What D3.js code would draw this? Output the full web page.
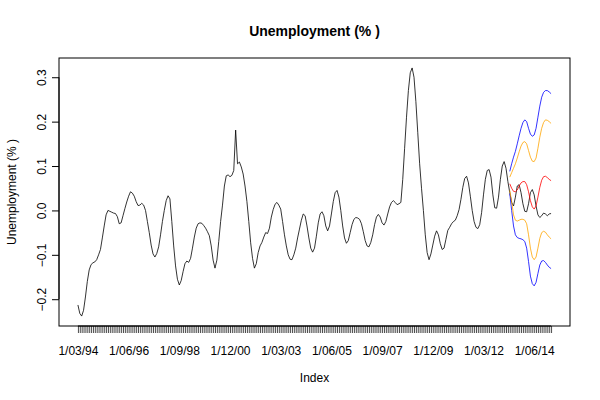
<!DOCTYPE html>
<meta charset="utf-8">

<!-- Load d3.js -->
<script src="https://d3js.org/d3.v7.min.js"></script>

<style>
  body { margin: 0; background: #fff; }
  text { font-family: "Liberation Sans", Arial, Helvetica, sans-serif; }
</style>

<!-- Create a div where the graph will take place -->
<div id="my_dataviz"></div>

<script>

// monthly unemployment change, starting 1/03/94
var unemp = [
  -0.213, -0.232, -0.238, -0.225, -0.195, -0.160, -0.134, -0.122, -0.118, -0.116,
  -0.111, -0.100, -0.088, -0.062, -0.035, -0.010, 0.000, -0.002, -0.004, -0.006,
  -0.007, -0.014, -0.030, -0.028, -0.012, 0.004, 0.019, 0.032, 0.042, 0.039,
  0.032, 0.020, 0.011, 0.012, 0.016, 0.012, 0.000, -0.025, -0.050, -0.078,
  -0.098, -0.105, -0.097, -0.082, -0.055, -0.025, 0.000, 0.022, 0.033, 0.026,
  -0.025, -0.080, -0.125, -0.155, -0.168, -0.158, -0.138, -0.120, -0.114, -0.117,
  -0.108, -0.085, -0.060, -0.040, -0.030, -0.028, -0.029, -0.034, -0.040, -0.048,
  -0.057, -0.080, -0.112, -0.130, -0.112, -0.070, -0.025, 0.012, 0.055, 0.078,
  0.080, 0.076, 0.079, 0.090, 0.181, 0.105, 0.109, 0.098, 0.082, 0.055,
  0.020, -0.025, -0.073, -0.108, -0.130, -0.120, -0.095, -0.080, -0.072, -0.060,
  -0.050, -0.052, -0.040, -0.015, 0.002, 0.014, 0.018, 0.012, 0.003, -0.025,
  -0.055, -0.080, -0.100, -0.110, -0.111, -0.100, -0.085, -0.062, -0.042, -0.022,
  -0.008, -0.012, -0.035, -0.062, -0.085, -0.094, -0.085, -0.058, -0.028, -0.008,
  -0.003, -0.012, -0.035, -0.046, -0.035, -0.008, 0.020, 0.040, 0.045, 0.030,
  0.000, -0.035, -0.062, -0.074, -0.068, -0.050, -0.032, -0.020, -0.016, -0.017,
  -0.020, -0.030, -0.048, -0.068, -0.080, -0.082, -0.072, -0.055, -0.032, -0.015,
  -0.009, -0.015, -0.028, -0.033, -0.025, -0.008, 0.008, 0.018, 0.022, 0.018,
  0.013, 0.015, 0.018, 0.070, 0.140, 0.210, 0.270, 0.310, 0.321, 0.300,
  0.245, 0.175, 0.105, 0.050, 0.000, -0.055, -0.095, -0.111, -0.098, -0.078,
  -0.058, -0.046, -0.055, -0.075, -0.088, -0.085, -0.065, -0.045, -0.038, -0.030,
  -0.025, -0.022, -0.012, 0.002, 0.025, 0.052, 0.072, 0.077, 0.062, 0.032,
  0.000, -0.025, -0.038, -0.041, -0.032, -0.005, 0.035, 0.070, 0.090, 0.092,
  0.075, 0.035, 0.006, 0.005, 0.030, 0.070, 0.100, 0.110, 0.095, 0.065,
  0.040, 0.018, 0.010, 0.030, 0.055, 0.058, 0.040, 0.015, -0.002, -0.003,
  0.015, 0.040, 0.047, 0.035, 0.010, -0.010, -0.016, -0.012, -0.006, -0.008,
  -0.012, -0.008, -0.007
];

// forecast starts at this index
var fcStart = 230;

var fcMean = [
  0.060, 0.050, 0.043, 0.042, 0.046, 0.055, 0.062, 0.065, 0.065, 0.058,
  0.042, 0.022, 0.008, 0.003, 0.010, 0.030, 0.052, 0.068, 0.076, 0.077,
  0.074, 0.070, 0.067
];
var fcHi80 = [
  0.075, 0.085, 0.095, 0.105, 0.118, 0.132, 0.145, 0.153, 0.155, 0.150,
  0.135, 0.120, 0.111, 0.110, 0.118, 0.140, 0.165, 0.185, 0.198, 0.204,
  0.203, 0.200, 0.196
];
var fcLo80 = [
  0.045, 0.020, -0.010, -0.022, -0.024, -0.022, -0.020, -0.020, -0.022, -0.030,
  -0.055, -0.085, -0.105, -0.111, -0.105, -0.085, -0.063, -0.050, -0.047, -0.049,
  -0.055, -0.060, -0.064
];
var fcHi95 = [
  0.088, 0.105, 0.120, 0.133, 0.150, 0.168, 0.185, 0.198, 0.204, 0.200,
  0.185, 0.172, 0.167, 0.170, 0.185, 0.210, 0.235, 0.255, 0.266, 0.270,
  0.270, 0.267, 0.263
];
var fcLo95 = [
  0.038, 0.000, -0.035, -0.055, -0.061, -0.063, -0.064, -0.066, -0.070, -0.085,
  -0.115, -0.148, -0.165, -0.170, -0.162, -0.142, -0.123, -0.114, -0.113, -0.117,
  -0.123, -0.128, -0.131
];

// x labels that R kept (every 27 months)
var labelIndex = [0, 27, 54, 81, 108, 135, 162, 189, 216, 243];
var labelText = ["1/03/94", "1/06/96", "1/09/98", "1/12/00", "1/03/03",
                 "1/06/05", "1/09/07", "1/12/09", "1/03/12", "1/06/14"];
var yTicks = [-0.2, -0.1, 0.0, 0.1, 0.2, 0.3];

// set the dimensions and margins of the graph
var margin = {top: 58, right: 30, bottom: 74, left: 59},
    width = 600 - margin.left - margin.right,
    height = 400 - margin.top - margin.bottom;

var svg = d3.select("#my_dataviz")
  .append("svg")
    .attr("width", 600)
    .attr("height", 400)
  .append("g")
    .attr("transform", "translate(" + margin.left + "," + margin.top + ")");

// R style: extend the data range by 4% on each side
var n = unemp.length;
var allY = unemp.concat(fcHi95, fcLo95);
var yMin = d3.min(allY), yMax = d3.max(allY);
var padX = 0.04 * (n - 1), padY = 0.04 * (yMax - yMin);

var x = d3.scaleLinear()
  .domain([-padX, n - 1 + padX])
  .range([0, width]);

var y = d3.scaleLinear()
  .domain([yMin - padY, yMax + padY])
  .range([height, 0]);

// X axis: a tick at every month, labels only where R kept them
var xAxis = svg.append("g")
  .attr("transform", "translate(0," + height + ")")
  .call(d3.axisBottom(x)
    .tickValues(d3.range(n))
    .tickSize(7)
    .tickFormat(function(d) {
      var k = labelIndex.indexOf(d);
      return k >= 0 ? labelText[k] : "";
    }));
xAxis.select(".domain").attr("d", "M" + x(0) + ",0H" + x(n - 1));
xAxis.selectAll(".tick line").attr("stroke", "#000").attr("stroke-width", 0.7);
xAxis.selectAll(".tick text")
  .attr("y", 20)
  .attr("font-size", 12)
  .attr("fill", "#000");

// Y axis, labels parallel to the axis
var yAxis = svg.append("g")
  .call(d3.axisLeft(y)
    .tickValues(yTicks)
    .tickSize(7)
    .tickFormat(d3.format(".1f")));
yAxis.select(".domain").attr("d", "M0," + y(yTicks[0]) + "V" + y(yTicks[yTicks.length - 1]));
yAxis.selectAll(".tick text")
  .attr("x", null)
  .attr("dy", null)
  .attr("transform", "translate(-13,0) rotate(-90)")
  .attr("text-anchor", "middle")
  .attr("font-size", 12)
  .attr("fill", "#000");

// box around the plot
svg.append("rect")
  .attr("width", width)
  .attr("height", height)
  .attr("fill", "none")
  .attr("stroke", "#000")
  .attr("stroke-width", 1);

var line = d3.line()
  .x(function(d) { return x(d.i); })
  .y(function(d) { return y(d.v); });

// main series
svg.append("path")
  .datum(unemp.map(function(v, i) { return {i: i, v: v}; }))
  .attr("fill", "none")
  .attr("stroke", "#000")
  .attr("stroke-width", 0.8)
  .attr("d", line);

// forecast and its intervals
var bands = [
  {vals: fcHi95, color: "blue"},
  {vals: fcLo95, color: "blue"},
  {vals: fcHi80, color: "orange"},
  {vals: fcLo80, color: "orange"},
  {vals: fcMean, color: "red"}
];
bands.forEach(function(b) {
  svg.append("path")
    .datum(b.vals.map(function(v, k) { return {i: fcStart + k, v: v}; }))
    .attr("fill", "none")
    .attr("stroke", b.color)
    .attr("stroke-width", 0.8)
    .attr("d", line);
});

// titles
svg.append("text")
  .attr("x", width / 2)
  .attr("y", -22)
  .attr("text-anchor", "middle")
  .attr("font-size", 14)
  .attr("font-weight", "bold")
  .text("Unemployment (% )");

svg.append("text")
  .attr("x", width / 2)
  .attr("y", height + 56)
  .attr("text-anchor", "middle")
  .attr("font-size", 12)
  .text("Index");

svg.append("text")
  .attr("transform", "translate(-43," + (height / 2) + ") rotate(-90)")
  .attr("text-anchor", "middle")
  .attr("font-size", 12)
  .text("Unemployment (% )");

</script>
